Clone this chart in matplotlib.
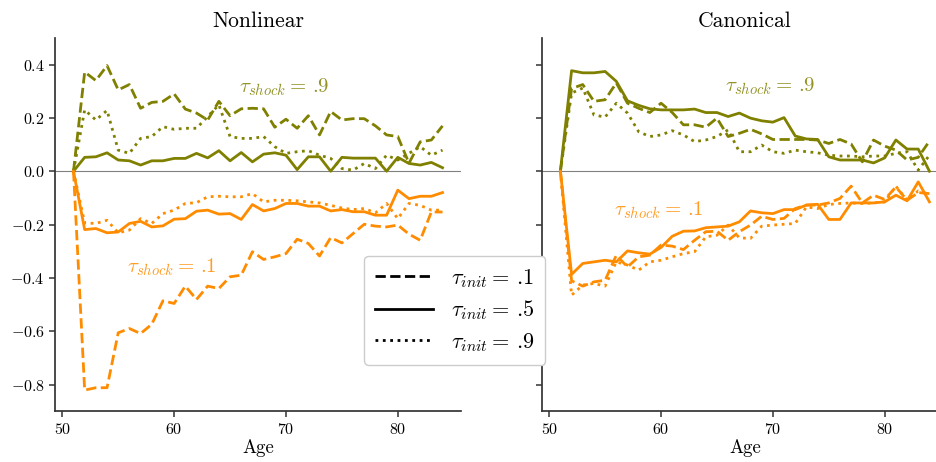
import numpy as np
import matplotlib
matplotlib.use("Agg")
import matplotlib.pyplot as plt
from matplotlib.lines import Line2D

plt.rcParams['font.family'] = 'serif'
plt.rcParams['font.serif'] = ['cmr10', 'DejaVu Serif']
plt.rcParams['mathtext.fontset'] = 'cm'
plt.rcParams['axes.formatter.use_mathtext'] = True

ages = np.arange(51, 85)

# Nonlinear, shock .9
nl_hi_01 = [0, 0.372, 0.34, 0.396, 0.305, 0.325, 0.236, 0.258, 0.262, 0.29, 0.233, 0.218,
            0.192, 0.262, 0.208, 0.234, 0.236, 0.234, 0.165, 0.195, 0.161, 0.208, 0.136,
            0.224, 0.192, 0.197, 0.197, 0.17, 0.136, 0.13, 0.03, 0.11, 0.117, 0.17]
nl_hi_05 = [0, 0.052, 0.054, 0.069, 0.042, 0.039, 0.023, 0.039, 0.039, 0.048, 0.048, 0.067,
            0.05, 0.077, 0.039, 0.07, 0.035, 0.064, 0.069, 0.06, 0.006, 0.054, 0.054, 0.0,
            0.052, 0.049, 0.049, 0.049, 0.0, 0.052, 0.029, 0.023, 0.033, 0.013]
nl_hi_09 = [0, 0.23, 0.192, 0.228, 0.079, 0.067, 0.123, 0.13, 0.167, 0.157, 0.161, 0.161,
            0.205, 0.249, 0.13, 0.123, 0.123, 0.13, 0.092, 0.067, 0.073, 0.077, 0.06, 0.048,
            0.01, 0.004, 0.029, 0.01, 0.06, 0.042, 0.067, 0.092, 0.06, 0.079]
# Nonlinear, shock .1
nl_lo_01 = [0, -0.821, -0.812, -0.812, -0.606, -0.59, -0.609, -0.574, -0.486, -0.496, -0.431,
            -0.481, -0.431, -0.44, -0.396, -0.39, -0.302, -0.331, -0.321, -0.309, -0.255,
            -0.271, -0.318, -0.249, -0.269, -0.234, -0.199, -0.206, -0.209, -0.202, -0.236,
            -0.259, -0.153, -0.153]
nl_lo_05 = [0, -0.219, -0.215, -0.231, -0.228, -0.196, -0.188, -0.209, -0.205, -0.18, -0.178,
            -0.15, -0.146, -0.161, -0.159, -0.181, -0.125, -0.149, -0.14, -0.121, -0.121,
            -0.131, -0.131, -0.149, -0.144, -0.152, -0.152, -0.165, -0.165, -0.071, -0.103,
            -0.094, -0.094, -0.08]
nl_lo_09 = [0, -0.194, -0.196, -0.184, -0.231, -0.221, -0.178, -0.196, -0.159, -0.146, -0.121,
            -0.118, -0.096, -0.094, -0.096, -0.096, -0.084, -0.115, -0.109, -0.109, -0.111,
            -0.115, -0.119, -0.128, -0.138, -0.144, -0.14, -0.156, -0.121, -0.178, -0.121,
            -0.128, -0.146, -0.146]

# Canonical, shock .9
cn_hi_01 = [0, 0.31, 0.325, 0.262, 0.268, 0.331, 0.255, 0.236, 0.22, 0.255, 0.22, 0.174,
            0.174, 0.165, 0.199, 0.13, 0.142, 0.157, 0.14, 0.119, 0.119, 0.119, 0.119, 0.117,
            0.104, 0.119, 0.102, 0.035, 0.117, 0.094, 0.079, 0.042, 0.052, 0.113]
cn_hi_05 = [0, 0.377, 0.369, 0.369, 0.374, 0.337, 0.264, 0.247, 0.234, 0.23, 0.23, 0.23,
            0.233, 0.22, 0.22, 0.205, 0.218, 0.199, 0.189, 0.184, 0.201, 0.132, 0.121, 0.119,
            0.054, 0.042, 0.042, 0.042, 0.031, 0.05, 0.117, 0.083, 0.083, 0.0]
cn_hi_09 = [0, 0.293, 0.312, 0.211, 0.203, 0.255, 0.218, 0.148, 0.13, 0.136, 0.152, 0.136,
            0.111, 0.117, 0.13, 0.155, 0.073, 0.073, 0.098, 0.073, 0.067, 0.079, 0.073, 0.069,
            0.06, 0.057, 0.057, 0.054, 0.057, 0.057, 0.067, 0.073, 0.004, 0.06]
# Canonical, shock .1
cn_lo_01 = [0, -0.411, -0.431, -0.415, -0.409, -0.315, -0.359, -0.321, -0.315, -0.277, -0.281,
            -0.294, -0.259, -0.227, -0.225, -0.259, -0.227, -0.202, -0.169, -0.181, -0.177,
            -0.14, -0.127, -0.127, -0.119, -0.102, -0.056, -0.119, -0.09, -0.106, -0.059,
            -0.109, -0.08, -0.084]
cn_lo_05 = [0, -0.387, -0.346, -0.34, -0.334, -0.34, -0.299, -0.306, -0.311, -0.286, -0.244,
            -0.225, -0.224, -0.212, -0.209, -0.206, -0.19, -0.149, -0.156, -0.159, -0.144,
            -0.144, -0.127, -0.124, -0.181, -0.181, -0.119, -0.119, -0.119, -0.115, -0.09,
            -0.111, -0.04, -0.115]
cn_lo_09 = [0, -0.465, -0.427, -0.421, -0.431, -0.34, -0.352, -0.371, -0.34, -0.334, -0.321,
            -0.309, -0.302, -0.246, -0.24, -0.202, -0.25, -0.252, -0.206, -0.202, -0.199,
            -0.196, -0.134, -0.14, -0.125, -0.121, -0.119, -0.121, -0.119, -0.115, -0.056,
            -0.109, -0.074, -0.087]

olive = '#808000'
orange = '#ff8c00'
styles = ['--', '-', ':']

fig = plt.figure(figsize=(9.36, 4.62), dpi=100)
ax1 = fig.add_axes([0.0588, 0.110, 0.4337, 0.808])
ax2 = fig.add_axes([0.579, 0.110, 0.4337, 0.808], sharey=ax1)

panels = [
    (ax1, 'Nonlinear', [nl_hi_01, nl_hi_05, nl_hi_09], [nl_lo_01, nl_lo_05, nl_lo_09],
     (69.8, 0.315), (59.75, -0.36)),
    (ax2, 'Canonical', [cn_hi_01, cn_hi_05, cn_hi_09], [cn_lo_01, cn_lo_05, cn_lo_09],
     (69.8, 0.32), (59.8, -0.146)),
]

for ax, title, hi, lo, pos_hi, pos_lo in panels:
    ax.axhline(0, color='gray', lw=0.8, zorder=1)
    for s, ls in zip(hi, styles):
        ax.plot(ages, s, color=olive, ls=ls, lw=2)
    for s, ls in zip(lo, styles):
        ax.plot(ages, s, color=orange, ls=ls, lw=2)
    ax.text(pos_hi[0], pos_hi[1], r'$\tau_{shock} = \,.\hspace{-0.2}9$', color=olive,
            alpha=0.85, fontsize=15, ha='center', va='center')
    ax.text(pos_lo[0], pos_lo[1], r'$\tau_{shock} = \,.\hspace{-0.2}1$', color=orange,
            alpha=0.85, fontsize=15, ha='center', va='center')
    ax.set_title(title, fontsize=15.5, pad=8)
    ax.set_xlabel('Age', fontsize=13.5, labelpad=2)
    ax.spines['top'].set_visible(False)
    ax.spines['right'].set_visible(False)
    for sp in ['left', 'bottom']:
        ax.spines[sp].set_color('#333333')
        ax.spines[sp].set_linewidth(1.25)
    ax.tick_params(colors='#333333', labelcolor='black', labelsize=11.5, width=1.1, length=4)
    ax.set_xticks([50, 60, 70, 80])

ax1.set_ylim(-0.9, 0.5)
ax1.set_yticks([-0.8, -0.6, -0.4, -0.2, 0.0, 0.2, 0.4])
ax2.tick_params(labelleft=False)

handles = [Line2D([], [], color='black', ls=ls, lw=2) for ls in styles]
labels = [r'$\tau_{init} = \,.\hspace{-0.2}1$', r'$\tau_{init} = \,.\hspace{-0.2}5$',
          r'$\tau_{init} = \,.\hspace{-0.2}9$']
fig.legend(handles, labels, loc='upper left', bbox_to_anchor=(0.389, 0.446),
           bbox_transform=fig.transFigure, fontsize=16, frameon=True,
           edgecolor='#cccccc', framealpha=1, handlelength=2.6, borderpad=0.5,
           labelspacing=0.39, handletextpad=0.8, borderaxespad=0)

fig.savefig('out.png', dpi=100)
